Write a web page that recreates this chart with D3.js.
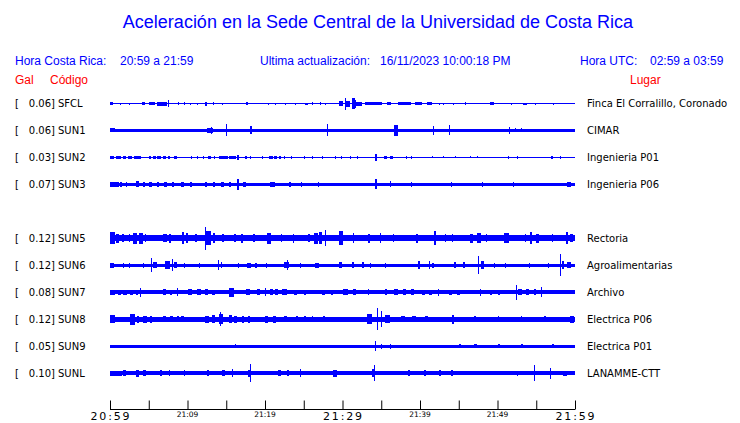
<!DOCTYPE html>
<html><head><meta charset="utf-8">
<script src="https://cdn.jsdelivr.net/npm/d3@7"></script>
<style>body{margin:0;background:#fff}svg{display:block}</style>
</head><body>
<script>
// ---- Data ----
const stationCodes = ["SFCL","SUN1","SUN2","SUN3","SUN5","SUN6","SUN7","SUN8","SUN9","SUNL"];
const stationGal = ["0.06","0.06","0.03","0.07","0.12","0.12","0.08","0.12","0.05","0.10"];
const stationPlaces = ["Finca El Corralillo, Coronado","CIMAR","Ingenieria P01","Ingenieria P06","Rectoria","Agroalimentarias","Archivo","Electrica P06","Electrica P01","LANAMME-CTT"];
const stationRow = [0,1,2,3,5,6,7,8,9,10];           // row slot (SUN4 slot empty)
const baseAmp = [0.5,1.3,0.5,1.8,3,1.7,1.8,2.5,1.5,2.2]; // background amplitude
const tickLabels = ["20:59","21:04","21:09","21:14","21:19","21:24","21:29","21:34","21:39","21:44","21:49","21:54","21:59"];
const tickMinutes = [0,5,10,15,20,25,30,35,40,45,50,55,60];
const majorTicks = ["20:59","21:29","21:59"];
const minorTicks = ["21:09","21:19","21:39","21:49"];
// events: [minute after 20:59, amplitude, duration in minutes]
const evSFCL = [[0,1.5,0.4],[1.3,1,0.1],[2.4,1,0.1],[4.1,1.5,0.4],[5,1.5,0.8],[6,2,1.3],[7.5,3.5,0.15],[8.8,1.5,0.1],[9.5,1.5,0.2],[10.3,1,0.1],[11.2,1,0.1],[12.3,2,0.2],[13.3,1.5,0.1],[14.4,1,0.1],[17.6,1.5,0.2],[20.4,1,0.1],[21.3,1,0.1],[22.6,1,0.1],[23.9,1,0.1],[25.2,1,0.4],[26,1.5,0.2],[27.1,1.5,0.1],[27.7,1,0.1],[29.5,2.5,0.6],[30.3,6,0.15],[30.5,3,0.5],[31.2,5.5,0.4],[31.6,4,0.2],[31.8,2,0.7],[32.9,1.5,2.2],[35.7,1.5,0.6],[37.2,1.5,1.7],[39.4,1.5,0.8],[40.9,1.5,0.6],[42.4,1,0.1],[43,1,0.1],[44.3,1,0.1],[45.8,1.5,0.1],[49,1.5,0.5],[51.8,1,0.1],[53.3,1,0.5],[54.8,1,0.1],[57.2,1,0.1]];
const evSUN1 = [[0,2,0.6],[12.5,2.5,0.8],[13,3.5,0.15],[15,6,0.1],[18.1,4,0.2],[28,6,0.1],[36.6,5.5,0.6],[41.7,4.5,0.1],[43.7,5,0.1],[51.5,3.5,0.15],[52.2,2,0.1],[53,2,0.1],[58.5,1.8,0.3]];
const evSUN2 = [[0,1.5,0.5],[0.8,1.5,0.6],[1.7,1.5,0.4],[2.3,1.5,0.5],[3.1,1.5,0.9],[5,1.5,0.3],[5.6,1.5,0.3],[6.1,1.5,0.5],[6.9,1.5,0.3],[7.5,1.5,0.3],[8.3,1.5,0.3],[10.5,1.2,0.1],[11.2,1.2,0.1],[12,1.2,0.1],[12.6,1.2,0.4],[13.4,1.2,0.1],[14,1.5,1.2],[15.4,1.5,0.9],[16.45,2.5,0.15],[17.4,1.5,0.3],[18,1.5,0.2],[19.6,1.2,0.1],[20.5,1.5,0.5],[21.2,1.5,0.3],[21.8,1.5,0.2],[22.4,1.2,0.1],[23.4,1.2,0.1],[25,1.2,0.1],[26,1.2,0.2],[27.3,1.2,0.1],[29,1.2,0.2],[29.8,1.2,0.1],[31,1.2,0.1],[31.9,1.2,0.1],[34.15,3.5,0.3],[35.3,1.5,0.5],[36.1,1.5,0.4],[38.2,1.2,0.1],[38.9,1.2,0.1],[41.5,1,0.1],[43,1,0.1],[44.5,1,0.1],[46.5,1,0.1],[47.3,1,0.1],[51.3,1.2,0.1],[52.5,1.2,0.2],[56.9,1.2,0.3],[58,1.2,0.1]];
const evSUN3 = [[0,2.5,1.1],[1.3,2.3,0.3],[2,2.3,0.2],[3.4,3,0.3],[4.2,2.3,0.3],[5,2.3,0.4],[6,2.3,0.3],[7,2.3,0.3],[8,2.3,0.3],[9.2,2.3,0.3],[10.3,2.3,0.3],[12.2,2.3,0.3],[13.3,2.3,0.3],[14.3,2.3,0.4],[15.3,2.3,0.3],[16.45,5.5,0.15],[17.2,2.5,0.4],[20.6,2.5,0.7],[23.1,2.3,0.2],[24.7,2.2,0.1],[26.8,2.2,0.1],[34.15,5,0.3],[36.1,3,0.1],[38.9,2.5,0.1],[44,2.2,0.1],[48,2.2,0.1],[52,2.2,0.1],[59,2.5,0.5]];
const evSUN5 = [[0,6,0.6],[0.8,4.5,0.3],[1.5,4,0.3],[2.4,4,0.2],[3,5.5,0.5],[3.7,5.5,0.6],[4.5,4,0.2],[6.9,4,0.4],[7.6,4.5,0.3],[9.3,6,0.3],[9.8,5,0.2],[11,4,0.2],[12.2,11.5,0.12],[12.4,7,0.6],[13.3,5,0.3],[14.5,4,0.2],[16,4,0.2],[16.9,4.5,0.2],[18.5,4,0.2],[20.2,5.5,0.6],[22,4,0.2],[23.6,4.5,0.2],[25.5,4,0.3],[26.3,5.5,0.5],[27,6,0.3],[27.7,8,0.12],[29.6,7,0.4],[31.3,5,0.2],[33.3,4.5,0.2],[34.8,5,0.2],[36.5,4,0.2],[39.5,4.5,0.2],[41.8,7,0.3],[43.2,4,0.2],[44.1,4,0.2],[46.5,4.5,0.3],[47.3,5,0.6],[48.5,4,0.2],[50.9,5,0.6],[53.5,4,0.2],[54.2,6,0.3],[55,4.5,0.3],[57,4,0.2],[58.9,6,0.2],[59.4,4,0.3]];
const evSUN6 = [[0,2.5,0.5],[1.7,2.5,0.1],[2.4,2.5,0.1],[4.3,2.5,0.1],[5.3,7,0.12],[5.5,3,0.6],[7.1,4,0.6],[7.95,6,0.12],[8.3,3,0.4],[9.5,2.5,0.1],[11.5,2.3,0.1],[13.9,5,0.2],[14.3,3,0.2],[16.5,2.3,0.1],[17.7,2.5,0.5],[18.7,2.5,0.3],[20.1,2.3,0.1],[22.8,5,0.15],[22.5,3,0.6],[24.5,2.3,0.1],[26.5,2.5,0.5],[29.6,3,0.3],[31.2,3,0.3],[32.5,3,0.3],[33.5,2.5,0.1],[35.5,2.3,0.1],[39.8,4,0.2],[41.1,4,0.2],[41.6,2.5,0.2],[44.4,3,0.3],[45.5,3,0.3],[47.5,9,0.12],[47.9,4,0.3],[49.5,2.3,0.1],[51,2.3,0.1],[54,2.3,0.1],[56.5,2.3,0.1],[58.05,11,0.12],[58.3,4,0.3],[59,3,0.5]];
const evSUN7 = [[0,2.5,0.7],[1,2.5,0.4],[1.7,2.5,0.5],[2.6,2.5,0.4],[3.3,2.5,0.3],[3.85,4.5,0.12],[6.9,3,0.3],[7.8,2.5,0.2],[8.6,4,0.12],[10.1,3,0.5],[11.2,3,0.6],[12.2,3,0.4],[13.2,2.5,0.3],[15.3,4.5,0.7],[17.6,3,0.5],[19,3,0.3],[20,4,0.15],[20.6,3,0.4],[21.3,3,0.4],[22.2,3,0.6],[23.8,2.5,0.3],[25,2.5,0.3],[27.3,2.5,0.4],[28.5,2.5,0.3],[30,3,0.7],[31.3,3,0.5],[33.3,3,0.1],[35.5,3,0.3],[36.7,3,0.5],[37.8,3,0.4],[38.9,3,0.3],[40.3,2.5,0.3],[41.2,2.5,0.3],[42.3,3.5,0.12],[43.7,2.5,0.4],[44.8,2.5,0.3],[47.7,3.5,0.12],[49,2.5,0.3],[50,2.5,0.3],[52.45,7.5,0.12],[52.7,3,0.4],[53.7,3,0.3],[54.7,3,0.3],[55.65,5,0.12]];
const evSUN8 = [[0,4,0.6],[2.6,5.5,0.6],[3.5,3.5,0.3],[4.3,3.5,0.5],[5.2,3.5,0.2],[6.9,3,0.3],[7.8,3,0.3],[8.6,3,0.3],[9.2,3,0.3],[12.3,3.5,0.5],[13.1,4,0.4],[14.2,7,0.15],[14,5,0.6],[15.3,4,0.5],[16,3.5,0.4],[17,3.5,0.3],[17.8,3.5,0.3],[20,3.5,0.4],[21,3.5,0.4],[22.5,3,0.3],[24,3,0.2],[25,3,0.3],[26,3,0.2],[27.5,3,0.3],[33.2,5,0.6],[34.4,11,0.12],[34.95,8,0.12],[35.5,4,0.6],[37.6,3,0.4],[39,3,0.5],[40.6,3,0.4],[44.1,4.5,0.3],[47,3,0.2],[50,3,0.2],[53,3,0.2],[56,3,0.2],[59.4,3.5,0.5]];
const evSUN9 = [[16.1,2,0.1],[34.25,5,0.12],[35,2.5,0.12],[36.1,2.5,0.12],[45,1.8,0.3],[47,1.8,0.3],[50,1.8,0.3],[53,1.8,0.3],[57,1.8,0.3]];
const evSUNL = [[0,2.5,1.5],[1.7,3,0.3],[3.4,3.5,0.3],[4.3,3,0.3],[6.5,3,0.2],[7.6,3,0.2],[9.5,3,0.2],[12.5,3,0.3],[14.5,3,0.3],[15.7,4,0.2],[18.05,9,0.12],[17.8,3.5,0.4],[21.7,3,0.3],[22.8,3,0.3],[24.5,4,0.15],[28.8,3.5,0.5],[34,8,0.12],[33.8,4,0.4],[38.5,3,0.2],[40.5,3,0.3],[42.5,3,0.2],[44,3,0.3],[52.5,2.5,0.2],[54.7,8,0.12],[56.8,5.5,0.12],[58.5,2.5,0.5]];
const stationEvents = [evSFCL,evSUN1,evSUN2,evSUN3,evSUN5,evSUN6,evSUN7,evSUN8,evSUN9,evSUNL];

// ---- Drawing ----
const W = 740, H = 423;
const blue = "#0000ff", red = "#ff0000";
const svg = d3.select("body").append("svg").attr("width", W).attr("height", H);

const x = d3.scaleLinear().domain([0, 60]).range([110, 575]);
const yRow = d3.scaleLinear().domain([0, 10]).range([103.5, 373]);
const amp = d3.scaleLinear().domain([0, 12]).range([0, 12]);

// Title
svg.append("text").attr("x", 378).attr("y", 28).attr("text-anchor", "middle")
  .attr("font-family", "Liberation Sans, Arial, sans-serif").attr("font-size", 18).attr("fill", blue)
  .text("Aceleración en la Sede Central de la Universidad de Costa Rica");

const hdr = [
  [15, 65, "Hora Costa Rica:", blue], [120, 65, "20:59 a 21:59", blue],
  [260, 65, "Ultima actualización:", blue], [380, 65, "16/11/2023 10:00:18 PM", blue],
  [580, 65, "Hora UTC:", blue], [650, 65, "02:59 a 03:59", blue],
  [15, 84, "Gal", red], [50, 84, "Código", red], [630, 84, "Lugar", red]
];
svg.append("g").selectAll("text").data(hdr).join("text")
  .attr("x", d => d[0]).attr("y", d => d[1]).attr("fill", d => d[3])
  .attr("font-family", "Liberation Sans, Arial, sans-serif").attr("font-size", 12)
  .text(d => d[2]);

// Traces
const traces = svg.append("g").attr("shape-rendering", "crispEdges");
stationCodes.forEach((code, i) => {
  const yc = yRow(stationRow[i]);
  const g = traces.append("g").attr("fill", blue);
  g.append("rect").attr("x", x(0)).attr("width", x(60) - x(0))
    .attr("y", yc - amp(baseAmp[i])).attr("height", 2 * amp(baseAmp[i]));
  g.selectAll("rect.ev").data(stationEvents[i]).join("rect").attr("class", "ev")
    .attr("x", d => x(d[0]))
    .attr("width", d => Math.max(1, Math.min(x(60), x(d[0] + d[2])) - x(d[0])))
    .attr("y", d => yc - amp(d[1])).attr("height", d => 2 * amp(d[1]));

  const lab = svg.append("g").attr("font-family", "DejaVu Sans, sans-serif").attr("font-size", 10).attr("fill", "#000");
  lab.append("text").attr("x", 15).attr("y", yc + 3.5).text("[");
  lab.append("text").attr("x", 55).attr("y", yc + 3.5).attr("text-anchor", "end").text(stationGal[i] + "]");
  lab.append("text").attr("x", 58).attr("y", yc + 3.5).text(code);
  lab.append("text").attr("x", 587).attr("y", yc + 3.5).text(stationPlaces[i]);
});

// Axis
const axisG = svg.append("g").attr("transform", "translate(0,409.5)");
const axis = d3.axisTop(x).tickValues(tickMinutes).tickSize(9).tickFormat("");
axisG.call(axis);
axisG.select(".domain").attr("d", `M${x(0)},0H${x(60)}`).attr("stroke", "#000");
axisG.selectAll(".tick line").attr("stroke", "#000");

const labG = svg.append("g").attr("font-family", "DejaVu Sans, sans-serif").attr("fill", "#000").attr("text-anchor", "middle");
tickMinutes.forEach((m, i) => {
  const t = tickLabels[i];
  if (majorTicks.includes(t)) {
    labG.append("text").attr("x", x(m)).attr("y", 420).attr("font-size", 11)
      .attr("textLength", 39).attr("lengthAdjust", "spacing").text(t);
  } else if (minorTicks.includes(t)) {
    labG.append("text").attr("x", x(m)).attr("y", 417).attr("font-size", 7.5).text(t);
  }
});
</script>
</body></html>
